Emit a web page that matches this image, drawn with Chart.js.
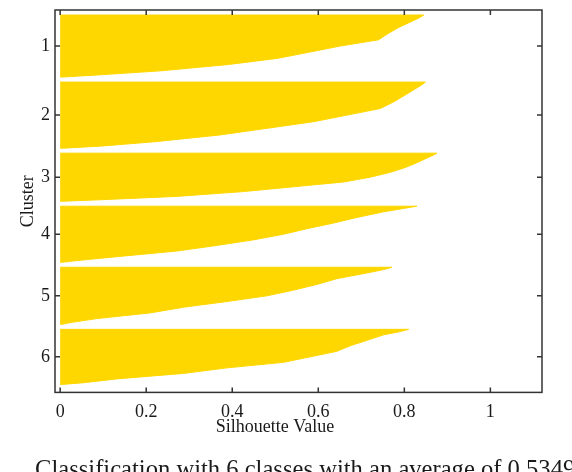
<!DOCTYPE html>
<html>
<head>
<meta charset="utf-8">
<script src="https://cdn.jsdelivr.net/npm/chart.js@4.4.1/dist/chart.umd.min.js"></script>
<style>
  html, body { margin: 0; padding: 0; background: #fff; }
</style>
</head>
<body>
<canvas id="myChart" width="572" height="472"></canvas>
<script>
// cluster names and number of points in each cluster
const clusterLabels = ["1", "2", "3", "4", "5", "6"];
const clusterSizes = [62, 66, 48, 56, 57, 55];

// where each value was read inside a cluster (0 = top row, 1 = bottom row)
const samplePos = [0, 0.04, 0.1, 0.2, 0.3, 0.4, 0.5, 0.6, 0.7, 0.8, 0.9, 0.97, 1];

// sorted silhouette values
const silCluster1 = [0.845, 0.836, 0.818, 0.787, 0.762, 0.740, 0.651, 0.578, 0.504, 0.388, 0.233, 0.078, 0.005];
const silCluster2 = [0.849, 0.841, 0.826, 0.801, 0.775, 0.744, 0.667, 0.589, 0.481, 0.372, 0.225, 0.093, 0.008];
const silCluster3 = [0.876, 0.868, 0.853, 0.829, 0.802, 0.767, 0.721, 0.659, 0.543, 0.426, 0.271, 0.093, 0.008];
const silCluster4 = [0.829, 0.798, 0.752, 0.690, 0.636, 0.574, 0.519, 0.450, 0.364, 0.271, 0.132, 0.039, 0.005];
const silCluster5 = [0.771, 0.752, 0.713, 0.643, 0.597, 0.543, 0.481, 0.388, 0.287, 0.209, 0.085, 0.023, 0.005];
const silCluster6 = [0.810, 0.791, 0.752, 0.713, 0.674, 0.643, 0.581, 0.519, 0.388, 0.287, 0.132, 0.054, 0.005];

const xTicks = [0, 0.2, 0.4, 0.6, 0.8, 1];
const caption = "Classification with 6 classes with an average of 0.5349";

const profiles = [silCluster1, silCluster2, silCluster3, silCluster4, silCluster5, silCluster6];
const topGap = 5;   // empty rows above the first cluster
const gap = 5;      // empty rows between clusters
const yMax = 382;

const fontName = '"Liberation Serif", "Times New Roman", serif';
const barColor = "#FFD700";

// one closed shape per cluster
const centers = [];
let start = topGap;
const datasets = profiles.map((vals, i) => {
    const pts = [{ x: 0, y: start }];
    vals.forEach((v, j) => pts.push({ x: v, y: start + samplePos[j] * clusterSizes[i] }));
    pts.push({ x: 0, y: start + clusterSizes[i] });
    centers.push(start + clusterSizes[i] / 2);
    start += clusterSizes[i] + gap;
    return {
        label: "Cluster " + clusterLabels[i],
        data: pts,
        backgroundColor: barColor,
        borderColor: barColor,
        borderWidth: 1,
        pointRadius: 0,
        tension: 0,
        fill: "shape",
    };
});

// box, inward ticks and the text around the axes
const framePlugin = {
    id: "frame",
    afterDraw(chart) {
        const { ctx, chartArea: a, scales } = chart;
        const t = 5;
        ctx.save();
        ctx.strokeStyle = "#333";
        ctx.lineWidth = 1.5;
        ctx.strokeRect(a.left, a.top, a.right - a.left, a.bottom - a.top);
        ctx.beginPath();
        xTicks.forEach((v) => {
            const px = scales.x.getPixelForValue(v);
            ctx.moveTo(px, a.bottom); ctx.lineTo(px, a.bottom - t);
            ctx.moveTo(px, a.top); ctx.lineTo(px, a.top + t);
        });
        centers.forEach((v) => {
            const py = scales.y.getPixelForValue(v);
            ctx.moveTo(a.left, py); ctx.lineTo(a.left + t, py);
            ctx.moveTo(a.right, py); ctx.lineTo(a.right - t, py);
        });
        ctx.stroke();

        ctx.fillStyle = "#1a1a1a";
        ctx.font = "18px " + fontName;
        ctx.textAlign = "center";
        ctx.textBaseline = "alphabetic";
        ctx.fillText("Silhouette Value", 275, 432);

        ctx.save();
        ctx.translate(33, (a.top + a.bottom) / 2);
        ctx.rotate(-Math.PI / 2);
        ctx.fillText("Cluster", 0, 0);
        ctx.restore();

        ctx.textAlign = "left";
        ctx.font = "24.6px " + fontName;
        ctx.fillText(caption, 35, 476.5);
        ctx.restore();
    },
};

const ctx = document.getElementById("myChart");
const myChart = new Chart(ctx, {
    type: "line",
    data: { datasets: datasets },
    options: {
        responsive: false,
        devicePixelRatio: 1,
        animation: false,
        layout: { padding: { left: 36, right: 30, top: 10, bottom: 40 } },
        plugins: {
            legend: { display: false },
            tooltip: { enabled: false },
        },
        scales: {
            x: {
                type: "linear",
                min: -0.012,
                max: 1.12,
                afterBuildTicks: (scale) => {
                    scale.ticks = xTicks.map((v) => ({ value: v }));
                },
                ticks: {
                    autoSkip: false,
                    maxRotation: 0,
                    padding: 9,
                    color: "#1a1a1a",
                    font: { family: fontName, size: 18 },
                    callback: (v) => String(v),
                },
                grid: { display: false, drawTicks: false },
                border: { display: false },
            },
            y: {
                type: "linear",
                reverse: true,
                min: 0,
                max: yMax,
                afterBuildTicks: (scale) => {
                    scale.ticks = centers.map((v) => ({ value: v }));
                },
                ticks: {
                    autoSkip: false,
                    padding: 5,
                    color: "#1a1a1a",
                    font: { family: fontName, size: 18, lineHeight: 0.5 },
                    callback: (v, i) => clusterLabels[i],
                },
                grid: { display: false, drawTicks: false },
                border: { display: false },
            },
        },
    },
    plugins: [framePlugin],
});
</script>
</body>
</html>
